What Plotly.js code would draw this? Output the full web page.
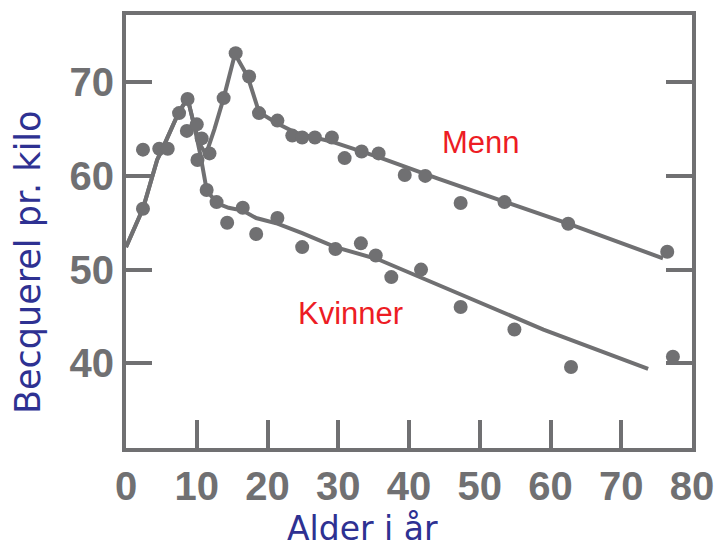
<!DOCTYPE html>
<html>
<head>
<meta charset="utf-8">
<script src="https://cdn.plot.ly/plotly-3.0.1.min.js"></script>
<style>html,body{margin:0;padding:0;background:#fff;}#chart{width:721px;height:549px;}</style>
</head>
<body>
<div id="chart"></div>
<script>
// Shared (children) measurements
const ageShared = [2.4, 2.4, 4.7, 5.9, 7.5, 8.7, 8.6, 10.0, 10.7, 10.1, 11.8];
const bqShared  = [56.5, 62.8, 62.9, 62.9, 66.7, 68.2, 64.8, 65.5, 64.0, 61.7, 62.4];

// Menn (men) measurements
const ageMenn = [13.8, 15.5, 17.4, 18.8, 21.4, 23.5, 24.9, 26.7, 29.1, 30.9, 33.3, 35.7, 39.4, 42.3, 47.3, 53.5, 62.5, 76.5];
const bqMenn  = [68.3, 73.1, 70.6, 66.7, 65.9, 64.3, 64.1, 64.1, 64.1, 61.9, 62.6, 62.4, 60.1, 60.0, 57.1, 57.2, 54.9, 51.9];

// Kvinner (women) measurements
const ageKvinner = [11.4, 12.8, 14.3, 16.5, 18.4, 21.4, 24.9, 29.6, 33.2, 35.3, 37.5, 41.7, 47.3, 54.9, 62.9, 77.3];
const bqKvinner  = [58.5, 57.2, 55.0, 56.6, 53.8, 55.5, 52.4, 52.2, 52.8, 51.5, 49.2, 50.0, 46.0, 43.6, 39.6, 40.7];

// Hand-drawn trend curves
const ageMennCurve = [0, 2.4, 4.4, 5.1, 7.4, 8.7, 9.6, 10.5, 11.3, 12.5, 13.8, 15.4, 17.2, 18.8, 21.4, 24.0, 29.3, 35.7, 44.1, 53.5, 62.5, 75.9];
const bqMennCurve  = [52.4, 56.5, 61.7, 62.8, 66.7, 68.3, 65.5, 63.3, 62.3, 65.0, 68.3, 73.0, 70.6, 66.8, 65.6, 64.6, 63.6, 62.0, 59.7, 57.2, 54.9, 51.2];
const ageKvinnerCurve = [0, 2.4, 4.4, 5.1, 7.4, 8.7, 9.6, 10.5, 11.4, 12.8, 14.5, 16.5, 18.4, 21.4, 24.9, 29.6, 35.6, 47.3, 59.0, 73.8];
const bqKvinnerCurve  = [52.4, 56.5, 61.7, 62.8, 66.7, 68.3, 65.5, 62.3, 58.5, 57.1, 56.6, 56.3, 55.5, 54.9, 53.9, 52.4, 51.1, 47.4, 43.6, 39.4];

const xTicks = [0, 10, 20, 30, 40, 50, 60, 70, 80];
const yTicks = [40, 50, 60, 70];

const gray = '#707072';
const lineStyle = {color: gray, width: 4};
const markerStyle = {color: gray, size: 14};

const traces = [
  {x: ageMennCurve, y: bqMennCurve, mode: 'lines', line: lineStyle, hoverinfo: 'skip'},
  {x: ageKvinnerCurve, y: bqKvinnerCurve, mode: 'lines', line: lineStyle, hoverinfo: 'skip'},
  {x: ageShared, y: bqShared, mode: 'markers', marker: markerStyle, name: 'Barn'},
  {x: ageMenn, y: bqMenn, mode: 'markers', marker: markerStyle, name: 'Menn'},
  {x: ageKvinner, y: bqKvinner, mode: 'markers', marker: markerStyle, name: 'Kvinner'}
];

const tickFont = {family: '"Liberation Sans", Arial, sans-serif', size: 40, color: gray, weight: 'bold'};

const layout = {
  width: 721, height: 549,
  margin: {l: 126, r: 29, t: 15, b: 101, pad: 0},
  paper_bgcolor: '#fff', plot_bgcolor: '#fff',
  showlegend: false,
  font: {family: '"Liberation Sans", Arial, sans-serif'},
  xaxis: {
    range: [0, 80], tickvals: xTicks, ticktext: xTicks.map(String),
    ticks: 'inside', ticklen: 28, tickwidth: 4, tickcolor: gray,
    showline: true, linewidth: 4, linecolor: gray, mirror: true,
    showgrid: false, zeroline: false,
    tickfont: tickFont, ticklabelstandoff: 0
  },
  yaxis: {
    range: [30.96, 77.17], tickvals: yTicks, ticktext: yTicks.map(String),
    ticks: 'inside', ticklen: 26, tickwidth: 4, tickcolor: gray,
    showline: true, linewidth: 4, linecolor: gray, mirror: 'ticks',
    showgrid: false, zeroline: false,
    tickfont: tickFont, ticklabelstandoff: 0
  },
  annotations: [
    {text: 'Menn', x: 50.2, y: 63.6, xref: 'x', yref: 'y', showarrow: false,
     font: {family: '"Liberation Sans", Arial, sans-serif', size: 31, color: '#ed1c24'}},
    {text: 'Kvinner', x: 31.8, y: 45.3, xref: 'x', yref: 'y', showarrow: false,
     font: {family: '"Liberation Sans", Arial, sans-serif', size: 31, color: '#ed1c24'}},
    {text: 'Alder i år', xref: 'paper', yref: 'paper',
     x: (362 - 126) / 566, y: -(528 - 448) / 433,
     xanchor: 'center', yanchor: 'middle', showarrow: false, borderpad: 0,
     font: {family: '"DejaVu Sans", sans-serif', size: 33, color: '#2e3192'}},
    {text: 'Becquerel pr. kilo', textangle: -90, xref: 'paper', yref: 'paper',
     x: -98 / 566, y: 1 - (262 - 15) / 433, xanchor: 'center', yanchor: 'middle', showarrow: false,
     font: {family: '"DejaVu Sans", sans-serif', size: 35, color: '#2e3192'}}
  ]
};

Plotly.newPlot('chart', traces, layout, {displayModeBar: false, staticPlot: true});
</script>
</body>
</html>
